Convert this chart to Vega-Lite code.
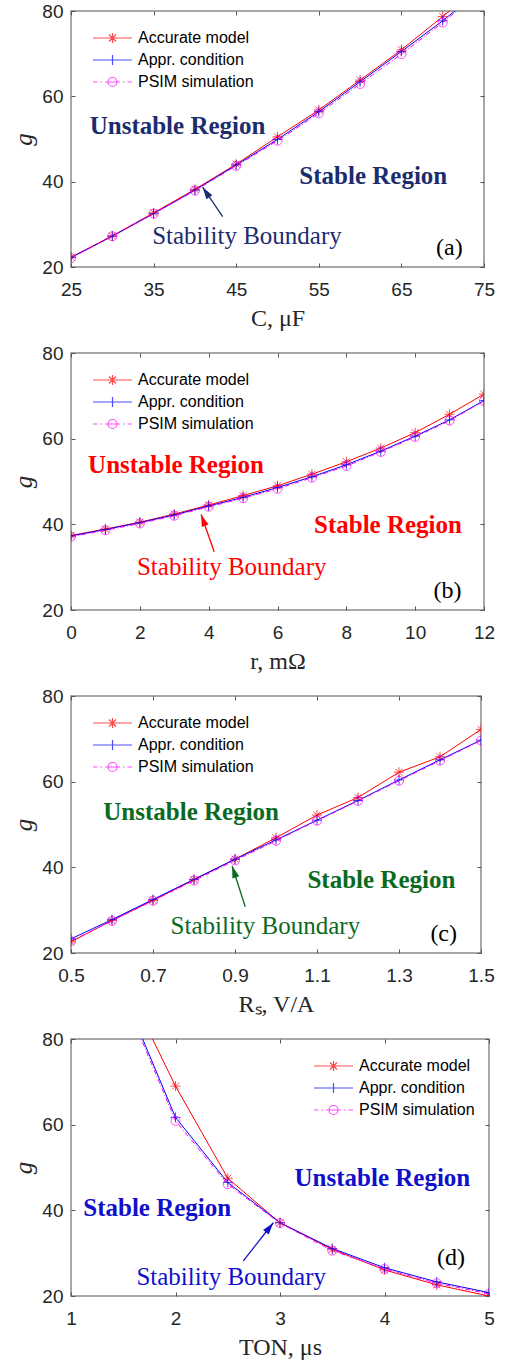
{
  "$schema": "https://vega.github.io/schema/vega-lite/v6.json",
  "background": "white",
  "padding": {"left": 11, "top": 1, "right": 5, "bottom": 5},
  "spacing": 86,
  "bounds": "flush",
  "config": {
    "view": {"stroke": "#8a8a8a", "strokeWidth": 1.5},
    "axis": {"grid": false, "domain": false, "labelFont": "Liberation Sans", "labelFontSize": 19, "labelColor": "#262626", "tickColor": "#555555", "titleFont": "Liberation Serif", "titleFontWeight": "normal", "titleColor": "#262626", "titleFontSize": 24, "labelFlush": false, "labelOverlap": false, "labelBound": false},
    "axisX": {"labelPadding": 13, "titlePadding": 7},
    "axisY": {"labelPadding": 8, "titlePadding": 5, "titleFontStyle": "italic", "titleFontSize": 25},
    "legend": {"orient": "none", "title": null, "symbolSize": 1521, "symbolStrokeWidth": 1.2, "symbolFillColor": "transparent", "labelFont": "Liberation Sans", "labelFontSize": 16, "labelColor": "#000000", "padding": 0, "labelOffset": 5, "rowPadding": 0, "clipHeight": 22}
  },
  "datasets": {
    "a": [
      {"x": 25, "series": "Accurate model", "g": 22.3}, {"x": 30, "series": "Accurate model", "g": 27.3}, {"x": 35, "series": "Accurate model", "g": 32.7}, {"x": 40, "series": "Accurate model", "g": 38.2}, {"x": 45, "series": "Accurate model", "g": 44.1}, {"x": 50, "series": "Accurate model", "g": 50.5}, {"x": 55, "series": "Accurate model", "g": 56.8}, {"x": 60, "series": "Accurate model", "g": 63.8}, {"x": 65, "series": "Accurate model", "g": 70.9}, {"x": 70, "series": "Accurate model", "g": 78.7}, {"x": 75, "series": "Accurate model", "g": 86.5},
      {"x": 25, "series": "Appr. condition", "g": 22.2}, {"x": 30, "series": "Appr. condition", "g": 27.2}, {"x": 35, "series": "Appr. condition", "g": 32.5}, {"x": 40, "series": "Appr. condition", "g": 38.0}, {"x": 45, "series": "Appr. condition", "g": 43.9}, {"x": 50, "series": "Appr. condition", "g": 49.9}, {"x": 55, "series": "Appr. condition", "g": 56.4}, {"x": 60, "series": "Appr. condition", "g": 63.4}, {"x": 65, "series": "Appr. condition", "g": 70.5}, {"x": 70, "series": "Appr. condition", "g": 77.7}, {"x": 75, "series": "Appr. condition", "g": 85.6},
      {"x": 25, "series": "PSIM simulation", "g": 22.1}, {"x": 30, "series": "PSIM simulation", "g": 27.2}, {"x": 35, "series": "PSIM simulation", "g": 32.5}, {"x": 40, "series": "PSIM simulation", "g": 37.9}, {"x": 45, "series": "PSIM simulation", "g": 43.7}, {"x": 50, "series": "PSIM simulation", "g": 49.6}, {"x": 55, "series": "PSIM simulation", "g": 56.0}, {"x": 60, "series": "PSIM simulation", "g": 62.9}, {"x": 65, "series": "PSIM simulation", "g": 69.9}, {"x": 70, "series": "PSIM simulation", "g": 77.3}, {"x": 75, "series": "PSIM simulation", "g": 85.2}
    ],
    "b": [
      {"x": 0, "series": "Accurate model", "g": 37.4}, {"x": 1, "series": "Accurate model", "g": 38.9}, {"x": 2, "series": "Accurate model", "g": 40.5}, {"x": 3, "series": "Accurate model", "g": 42.4}, {"x": 4, "series": "Accurate model", "g": 44.5}, {"x": 5, "series": "Accurate model", "g": 46.7}, {"x": 6, "series": "Accurate model", "g": 49.0}, {"x": 7, "series": "Accurate model", "g": 51.7}, {"x": 8, "series": "Accurate model", "g": 54.6}, {"x": 9, "series": "Accurate model", "g": 57.8}, {"x": 10, "series": "Accurate model", "g": 61.4}, {"x": 11, "series": "Accurate model", "g": 65.7}, {"x": 12, "series": "Accurate model", "g": 70.4},
      {"x": 0, "series": "Appr. condition", "g": 37.3}, {"x": 1, "series": "Appr. condition", "g": 38.8}, {"x": 2, "series": "Appr. condition", "g": 40.4}, {"x": 3, "series": "Appr. condition", "g": 42.2}, {"x": 4, "series": "Appr. condition", "g": 44.3}, {"x": 5, "series": "Appr. condition", "g": 46.3}, {"x": 6, "series": "Appr. condition", "g": 48.6}, {"x": 7, "series": "Appr. condition", "g": 51.1}, {"x": 8, "series": "Appr. condition", "g": 53.9}, {"x": 9, "series": "Appr. condition", "g": 57.1}, {"x": 10, "series": "Appr. condition", "g": 60.6}, {"x": 11, "series": "Appr. condition", "g": 64.4}, {"x": 12, "series": "Appr. condition", "g": 68.9},
      {"x": 0, "series": "PSIM simulation", "g": 37.1}, {"x": 1, "series": "PSIM simulation", "g": 38.6}, {"x": 2, "series": "PSIM simulation", "g": 40.2}, {"x": 3, "series": "PSIM simulation", "g": 42.0}, {"x": 4, "series": "PSIM simulation", "g": 44.1}, {"x": 5, "series": "PSIM simulation", "g": 46.1}, {"x": 6, "series": "PSIM simulation", "g": 48.3}, {"x": 7, "series": "PSIM simulation", "g": 50.9}, {"x": 8, "series": "PSIM simulation", "g": 53.6}, {"x": 9, "series": "PSIM simulation", "g": 56.9}, {"x": 10, "series": "PSIM simulation", "g": 60.4}, {"x": 11, "series": "PSIM simulation", "g": 64.2}, {"x": 12, "series": "PSIM simulation", "g": 68.8}
    ],
    "c": [
      {"x": 0.5, "series": "Accurate model", "g": 22.6}, {"x": 0.6, "series": "Accurate model", "g": 27.6}, {"x": 0.7, "series": "Accurate model", "g": 32.3}, {"x": 0.8, "series": "Accurate model", "g": 37.1}, {"x": 0.9, "series": "Accurate model", "g": 41.9}, {"x": 1.0, "series": "Accurate model", "g": 46.9}, {"x": 1.1, "series": "Accurate model", "g": 52.2}, {"x": 1.2, "series": "Accurate model", "g": 56.3}, {"x": 1.3, "series": "Accurate model", "g": 62.2}, {"x": 1.4, "series": "Accurate model", "g": 65.8}, {"x": 1.5, "series": "Accurate model", "g": 72.2},
      {"x": 0.5, "series": "Appr. condition", "g": 23.3}, {"x": 0.6, "series": "Appr. condition", "g": 27.8}, {"x": 0.7, "series": "Appr. condition", "g": 32.5}, {"x": 0.8, "series": "Appr. condition", "g": 37.2}, {"x": 0.9, "series": "Appr. condition", "g": 41.9}, {"x": 1.0, "series": "Appr. condition", "g": 46.4}, {"x": 1.1, "series": "Appr. condition", "g": 51.0}, {"x": 1.2, "series": "Appr. condition", "g": 55.6}, {"x": 1.3, "series": "Appr. condition", "g": 60.4}, {"x": 1.4, "series": "Appr. condition", "g": 65.1}, {"x": 1.5, "series": "Appr. condition", "g": 69.7},
      {"x": 0.5, "series": "PSIM simulation", "g": 22.8}, {"x": 0.6, "series": "PSIM simulation", "g": 27.5}, {"x": 0.7, "series": "PSIM simulation", "g": 32.2}, {"x": 0.8, "series": "PSIM simulation", "g": 36.9}, {"x": 0.9, "series": "PSIM simulation", "g": 41.6}, {"x": 1.0, "series": "PSIM simulation", "g": 46.2}, {"x": 1.1, "series": "PSIM simulation", "g": 50.9}, {"x": 1.2, "series": "PSIM simulation", "g": 55.5}, {"x": 1.3, "series": "PSIM simulation", "g": 60.2}, {"x": 1.4, "series": "PSIM simulation", "g": 64.9}, {"x": 1.5, "series": "PSIM simulation", "g": 69.6}
    ],
    "d": [
      {"x": 1.5, "series": "Accurate model", "g": 94.0}, {"x": 2, "series": "Accurate model", "g": 69.0}, {"x": 2.5, "series": "Accurate model", "g": 47.5}, {"x": 3, "series": "Accurate model", "g": 37.1}, {"x": 3.5, "series": "Accurate model", "g": 30.9}, {"x": 4, "series": "Accurate model", "g": 26.1}, {"x": 4.5, "series": "Accurate model", "g": 22.6}, {"x": 5, "series": "Accurate model", "g": 20.0},
      {"x": 1.5, "series": "Appr. condition", "g": 90.8}, {"x": 2, "series": "Appr. condition", "g": 61.7}, {"x": 2.5, "series": "Appr. condition", "g": 46.5}, {"x": 3, "series": "Appr. condition", "g": 37.1}, {"x": 3.5, "series": "Appr. condition", "g": 31.1}, {"x": 4, "series": "Appr. condition", "g": 26.6}, {"x": 4.5, "series": "Appr. condition", "g": 23.3}, {"x": 5, "series": "Appr. condition", "g": 20.8},
      {"x": 1.5, "series": "PSIM simulation", "g": 90.0}, {"x": 2, "series": "PSIM simulation", "g": 60.9}, {"x": 2.5, "series": "PSIM simulation", "g": 46.1}, {"x": 3, "series": "PSIM simulation", "g": 37.0}, {"x": 3.5, "series": "PSIM simulation", "g": 30.6}, {"x": 4, "series": "PSIM simulation", "g": 26.3}, {"x": 4.5, "series": "PSIM simulation", "g": 23.0}, {"x": 5, "series": "PSIM simulation", "g": 20.5}
    ],
    "ann": [
      {"panel": "a", "kind": "region", "label": "Unstable Region", "x": 37.9, "g": 53.0},
      {"panel": "a", "kind": "region", "label": "Stable Region", "x": 61.6, "g": 41.3},
      {"panel": "a", "kind": "boundary", "label": "Stability Boundary", "x": 46.3, "g": 27.3},
      {"panel": "a", "kind": "tag", "label": "(a)", "x": 70.8, "g": 24.45},
      {"panel": "b", "kind": "region", "label": "Unstable Region", "x": 3.05, "g": 53.9},
      {"panel": "b", "kind": "region", "label": "Stable Region", "x": 9.21, "g": 39.8},
      {"panel": "b", "kind": "boundary", "label": "Stability Boundary", "x": 4.67, "g": 30.0},
      {"panel": "b", "kind": "tag", "label": "(b)", "x": 10.94, "g": 24.4},
      {"panel": "c", "kind": "region", "label": "Unstable Region", "x": 0.793, "g": 53.0},
      {"panel": "c", "kind": "region", "label": "Stable Region", "x": 1.257, "g": 37.0},
      {"panel": "c", "kind": "boundary", "label": "Stability Boundary", "x": 0.974, "g": 26.4},
      {"panel": "c", "kind": "tag", "label": "(c)", "x": 1.409, "g": 24.4},
      {"panel": "d", "kind": "region", "label": "Unstable Region", "x": 3.98, "g": 47.6},
      {"panel": "d", "kind": "region", "label": "Stable Region", "x": 1.825, "g": 40.5},
      {"panel": "d", "kind": "boundary", "label": "Stability Boundary", "x": 2.533, "g": 24.5},
      {"panel": "d", "kind": "tag", "label": "(d)", "x": 4.636, "g": 28.8}
    ],
    "arrows": [
      {"panel": "a", "x": 43.36, "g": 31.8, "x2": 40.94, "g2": 38.7},
      {"panel": "b", "x": 4.16, "g": 33.6, "x2": 3.78, "g2": 42.3},
      {"panel": "c", "x": 0.925, "g": 30.8, "x2": 0.893, "g2": 40.3},
      {"panel": "d", "x": 2.649, "g": 28.2, "x2": 2.936, "g2": 37.1}
    ]
  },
  "resolve": {"scale": {"x": "independent", "y": "independent", "color": "independent", "shape": "independent"}, "legend": {"color": "independent", "shape": "independent"}},
  "vconcat": [
    {
      "width": 413, "height": 256,
      "resolve": {"axis": {"x": "independent", "y": "independent"}},
      "layer": [
        {"data": {"name": "a"}, "transform": [{"filter": {"field": "series", "equal": "Accurate model"}}],
         "mark": {"type": "line", "clip": true, "strokeWidth": 1, "color": "#ff0000"},
         "encoding": {
           "x": {"field": "x", "type": "quantitative", "scale": {"domain": [25, 75], "nice": false, "zero": false}, "axis": {"values": [25, 35, 45, 55, 65, 75], "title": "C, μF", "ticks": false}},
           "y": {"field": "g", "type": "quantitative", "scale": {"domain": [20, 80], "nice": false, "zero": false}, "axis": {"values": [20, 40, 60, 80], "title": "g", "ticks": false}}
         }},
        {"data": {"name": "a"}, "transform": [{"filter": {"field": "series", "equal": "Appr. condition"}}],
         "mark": {"type": "line", "clip": true, "strokeWidth": 1, "color": "#0000ff"},
         "encoding": {
           "x": {"field": "x", "type": "quantitative", "axis": {"orient": "bottom", "values": [25, 35, 45, 55, 65, 75], "labels": false, "title": null, "tickSize": -4}},
           "y": {"field": "g", "type": "quantitative", "axis": {"orient": "left", "values": [20, 40, 60, 80], "labels": false, "title": null, "tickSize": -4}}
         }},
        {"data": {"name": "a"}, "transform": [{"filter": {"field": "series", "equal": "PSIM simulation"}}],
         "mark": {"type": "line", "clip": true, "strokeWidth": 1, "color": "#ff00ff", "strokeDash": [5, 2, 1, 2]},
         "encoding": {
           "x": {"field": "x", "type": "quantitative", "axis": {"orient": "top", "values": [25, 35, 45, 55, 65, 75], "labels": false, "title": null, "tickSize": -4}},
           "y": {"field": "g", "type": "quantitative", "axis": {"orient": "right", "values": [20, 40, 60, 80], "labels": false, "title": null, "tickSize": -4}}
         }},
        {"data": {"name": "a"}, "transform": [{"filter": {"field": "series", "equal": "Accurate model"}}],
         "mark": {"type": "point", "clip": true, "filled": false, "color": "#ff0000", "strokeWidth": 1, "size": 100, "shape": "M0,-1L0,1M-1,0L1,0M-0.7,-0.7L0.7,0.7M-0.7,0.7L0.7,-0.7"},
         "encoding": {"x": {"field": "x", "type": "quantitative", "axis": null}, "y": {"field": "g", "type": "quantitative", "axis": null}}},
        {"data": {"name": "a"}, "transform": [{"filter": {"field": "series", "equal": "Appr. condition"}}],
         "mark": {"type": "point", "clip": true, "filled": false, "color": "#0000ff", "strokeWidth": 1, "size": 100, "shape": "M0,-1L0,1M-1,0L1,0"},
         "encoding": {"x": {"field": "x", "type": "quantitative", "axis": null}, "y": {"field": "g", "type": "quantitative", "axis": null}}},
        {"data": {"name": "a"}, "transform": [{"filter": {"field": "series", "equal": "PSIM simulation"}}],
         "mark": {"type": "point", "clip": true, "filled": false, "color": "#ff00ff", "strokeWidth": 1, "size": 81, "shape": "circle"},
         "encoding": {"x": {"field": "x", "type": "quantitative", "axis": null}, "y": {"field": "g", "type": "quantitative", "axis": null}}},
        {"data": {"name": "a"}, "transform": [{"filter": {"field": "series", "equal": "none"}}],
         "mark": {"type": "point", "filled": false},
         "encoding": {
           "x": {"field": "x", "type": "quantitative", "axis": null},
           "y": {"field": "g", "type": "quantitative", "axis": null},
           "color": {"field": "series", "type": "nominal", "scale": {"domain": ["Accurate model", "Appr. condition", "PSIM simulation"], "range": ["#ff0000", "#0000ff", "#ff00ff"]}, "legend": {"legendX": 21, "legendY": 16}},
           "shape": {"field": "series", "type": "nominal", "scale": {"domain": ["Accurate model", "Appr. condition", "PSIM simulation"], "range": ["M-1,0L1,0M0,-0.26L0,0.26M-0.26,0L0.26,0M-0.18,-0.18L0.18,0.18M-0.18,0.18L0.18,-0.18", "M-1,0L1,0M0,-0.26L0,0.26M-0.26,0L0.26,0", "M-1,0L-0.77,0M-0.62,0L-0.54,0M-0.38,0L0.38,0M0.54,0L0.62,0M0.77,0L1,0M0.23,0A0.23,0.23,0,1,1,-0.23,0A0.23,0.23,0,1,1,0.23,0"]}, "legend": {"legendX": 21, "legendY": 16}}
         }},
        {"data": {"name": "arrows"}, "transform": [{"filter": "datum.panel === 'a'"}],
         "mark": {"type": "rule", "color": "#1c2d6e", "strokeWidth": 1.3},
         "encoding": {"x": {"field": "x", "type": "quantitative", "axis": null}, "y": {"field": "g", "type": "quantitative", "axis": null}, "x2": {"field": "x2"}, "y2": {"field": "g2"}}},
        {"data": {"name": "arrows"}, "transform": [{"filter": "datum.panel === 'a'"}],
         "mark": {"type": "point", "filled": true, "color": "#1c2d6e", "opacity": 1, "size": 144, "angle": -34, "shape": "M0,0L-0.6,2L0.6,2Z"},
         "encoding": {"x": {"field": "x2", "type": "quantitative", "axis": null}, "y": {"field": "g2", "type": "quantitative", "axis": null}}},
        {"data": {"name": "ann"}, "transform": [{"filter": "datum.panel === 'a' && datum.kind === 'region'"}],
         "mark": {"type": "text", "font": "Liberation Serif", "fontSize": 25, "fontWeight": "bold", "color": "#1c2d6e", "align": "center", "baseline": "middle"},
         "encoding": {"x": {"field": "x", "type": "quantitative", "axis": null}, "y": {"field": "g", "type": "quantitative", "axis": null}, "text": {"field": "label"}}},
        {"data": {"name": "ann"}, "transform": [{"filter": "datum.panel === 'a' && datum.kind === 'boundary'"}],
         "mark": {"type": "text", "font": "Liberation Serif", "fontSize": 25, "color": "#1c2d6e", "align": "center", "baseline": "middle"},
         "encoding": {"x": {"field": "x", "type": "quantitative", "axis": null}, "y": {"field": "g", "type": "quantitative", "axis": null}, "text": {"field": "label"}}},
        {"data": {"name": "ann"}, "transform": [{"filter": "datum.panel === 'a' && datum.kind === 'tag'"}],
         "mark": {"type": "text", "font": "Liberation Serif", "fontSize": 24, "color": "#000000", "align": "center", "baseline": "middle"},
         "encoding": {"x": {"field": "x", "type": "quantitative", "axis": null}, "y": {"field": "g", "type": "quantitative", "axis": null}, "text": {"field": "label"}}}
      ]
    },
    {
      "width": 413, "height": 257,
      "resolve": {"axis": {"x": "independent", "y": "independent"}},
      "layer": [
        {"data": {"name": "b"}, "transform": [{"filter": {"field": "series", "equal": "Accurate model"}}],
         "mark": {"type": "line", "clip": true, "strokeWidth": 1, "color": "#ff0000"},
         "encoding": {
           "x": {"field": "x", "type": "quantitative", "scale": {"domain": [0, 12], "nice": false, "zero": false}, "axis": {"values": [0, 2, 4, 6, 8, 10, 12], "title": "r, mΩ", "ticks": false}},
           "y": {"field": "g", "type": "quantitative", "scale": {"domain": [20, 80], "nice": false, "zero": false}, "axis": {"values": [20, 40, 60, 80], "title": "g", "ticks": false}}
         }},
        {"data": {"name": "b"}, "transform": [{"filter": {"field": "series", "equal": "Appr. condition"}}],
         "mark": {"type": "line", "clip": true, "strokeWidth": 1, "color": "#0000ff"},
         "encoding": {
           "x": {"field": "x", "type": "quantitative", "axis": {"orient": "bottom", "values": [0, 2, 4, 6, 8, 10, 12], "labels": false, "title": null, "tickSize": -4}},
           "y": {"field": "g", "type": "quantitative", "axis": {"orient": "left", "values": [20, 40, 60, 80], "labels": false, "title": null, "tickSize": -4}}
         }},
        {"data": {"name": "b"}, "transform": [{"filter": {"field": "series", "equal": "PSIM simulation"}}],
         "mark": {"type": "line", "clip": true, "strokeWidth": 1, "color": "#ff00ff", "strokeDash": [5, 2, 1, 2]},
         "encoding": {
           "x": {"field": "x", "type": "quantitative", "axis": {"orient": "top", "values": [0, 2, 4, 6, 8, 10, 12], "labels": false, "title": null, "tickSize": -4}},
           "y": {"field": "g", "type": "quantitative", "axis": {"orient": "right", "values": [20, 40, 60, 80], "labels": false, "title": null, "tickSize": -4}}
         }},
        {"data": {"name": "b"}, "transform": [{"filter": {"field": "series", "equal": "Accurate model"}}],
         "mark": {"type": "point", "clip": true, "filled": false, "color": "#ff0000", "strokeWidth": 1, "size": 100, "shape": "M0,-1L0,1M-1,0L1,0M-0.7,-0.7L0.7,0.7M-0.7,0.7L0.7,-0.7"},
         "encoding": {"x": {"field": "x", "type": "quantitative", "axis": null}, "y": {"field": "g", "type": "quantitative", "axis": null}}},
        {"data": {"name": "b"}, "transform": [{"filter": {"field": "series", "equal": "Appr. condition"}}],
         "mark": {"type": "point", "clip": true, "filled": false, "color": "#0000ff", "strokeWidth": 1, "size": 100, "shape": "M0,-1L0,1M-1,0L1,0"},
         "encoding": {"x": {"field": "x", "type": "quantitative", "axis": null}, "y": {"field": "g", "type": "quantitative", "axis": null}}},
        {"data": {"name": "b"}, "transform": [{"filter": {"field": "series", "equal": "PSIM simulation"}}],
         "mark": {"type": "point", "clip": true, "filled": false, "color": "#ff00ff", "strokeWidth": 1, "size": 81, "shape": "circle"},
         "encoding": {"x": {"field": "x", "type": "quantitative", "axis": null}, "y": {"field": "g", "type": "quantitative", "axis": null}}},
        {"data": {"name": "b"}, "transform": [{"filter": {"field": "series", "equal": "none"}}],
         "mark": {"type": "point", "filled": false},
         "encoding": {
           "x": {"field": "x", "type": "quantitative", "axis": null},
           "y": {"field": "g", "type": "quantitative", "axis": null},
           "color": {"field": "series", "type": "nominal", "scale": {"domain": ["Accurate model", "Appr. condition", "PSIM simulation"], "range": ["#ff0000", "#0000ff", "#ff00ff"]}, "legend": {"legendX": 21, "legendY": 16}},
           "shape": {"field": "series", "type": "nominal", "scale": {"domain": ["Accurate model", "Appr. condition", "PSIM simulation"], "range": ["M-1,0L1,0M0,-0.26L0,0.26M-0.26,0L0.26,0M-0.18,-0.18L0.18,0.18M-0.18,0.18L0.18,-0.18", "M-1,0L1,0M0,-0.26L0,0.26M-0.26,0L0.26,0", "M-1,0L-0.77,0M-0.62,0L-0.54,0M-0.38,0L0.38,0M0.54,0L0.62,0M0.77,0L1,0M0.23,0A0.23,0.23,0,1,1,-0.23,0A0.23,0.23,0,1,1,0.23,0"]}, "legend": {"legendX": 21, "legendY": 16}}
         }},
        {"data": {"name": "arrows"}, "transform": [{"filter": "datum.panel === 'b'"}],
         "mark": {"type": "rule", "color": "#ff0000", "strokeWidth": 1.3},
         "encoding": {"x": {"field": "x", "type": "quantitative", "axis": null}, "y": {"field": "g", "type": "quantitative", "axis": null}, "x2": {"field": "x2"}, "y2": {"field": "g2"}}},
        {"data": {"name": "arrows"}, "transform": [{"filter": "datum.panel === 'b'"}],
         "mark": {"type": "point", "filled": true, "color": "#ff0000", "opacity": 1, "size": 144, "angle": -20, "shape": "M0,0L-0.6,2L0.6,2Z"},
         "encoding": {"x": {"field": "x2", "type": "quantitative", "axis": null}, "y": {"field": "g2", "type": "quantitative", "axis": null}}},
        {"data": {"name": "ann"}, "transform": [{"filter": "datum.panel === 'b' && datum.kind === 'region'"}],
         "mark": {"type": "text", "font": "Liberation Serif", "fontSize": 25, "fontWeight": "bold", "color": "#ff0000", "align": "center", "baseline": "middle"},
         "encoding": {"x": {"field": "x", "type": "quantitative", "axis": null}, "y": {"field": "g", "type": "quantitative", "axis": null}, "text": {"field": "label"}}},
        {"data": {"name": "ann"}, "transform": [{"filter": "datum.panel === 'b' && datum.kind === 'boundary'"}],
         "mark": {"type": "text", "font": "Liberation Serif", "fontSize": 25, "color": "#ff0000", "align": "center", "baseline": "middle"},
         "encoding": {"x": {"field": "x", "type": "quantitative", "axis": null}, "y": {"field": "g", "type": "quantitative", "axis": null}, "text": {"field": "label"}}},
        {"data": {"name": "ann"}, "transform": [{"filter": "datum.panel === 'b' && datum.kind === 'tag'"}],
         "mark": {"type": "text", "font": "Liberation Serif", "fontSize": 24, "color": "#000000", "align": "center", "baseline": "middle"},
         "encoding": {"x": {"field": "x", "type": "quantitative", "axis": null}, "y": {"field": "g", "type": "quantitative", "axis": null}, "text": {"field": "label"}}}
      ]
    },
    {
      "width": 410, "height": 257,
      "resolve": {"axis": {"x": "independent", "y": "independent"}},
      "layer": [
        {"data": {"name": "c"}, "transform": [{"filter": {"field": "series", "equal": "Accurate model"}}],
         "mark": {"type": "line", "clip": true, "strokeWidth": 1, "color": "#ff0000"},
         "encoding": {
           "x": {"field": "x", "type": "quantitative", "scale": {"domain": [0.5, 1.5], "nice": false, "zero": false}, "axis": {"values": [0.5, 0.7, 0.9, 1.1, 1.3, 1.5], "format": ".1f", "title": "Rₛ, V/A", "ticks": false}},
           "y": {"field": "g", "type": "quantitative", "scale": {"domain": [20, 80], "nice": false, "zero": false}, "axis": {"values": [20, 40, 60, 80], "title": "g", "ticks": false}}
         }},
        {"data": {"name": "c"}, "transform": [{"filter": {"field": "series", "equal": "Appr. condition"}}],
         "mark": {"type": "line", "clip": true, "strokeWidth": 1, "color": "#0000ff"},
         "encoding": {
           "x": {"field": "x", "type": "quantitative", "axis": {"orient": "bottom", "values": [0.5, 0.7, 0.9, 1.1, 1.3, 1.5], "labels": false, "title": null, "tickSize": -4}},
           "y": {"field": "g", "type": "quantitative", "axis": {"orient": "left", "values": [20, 40, 60, 80], "labels": false, "title": null, "tickSize": -4}}
         }},
        {"data": {"name": "c"}, "transform": [{"filter": {"field": "series", "equal": "PSIM simulation"}}],
         "mark": {"type": "line", "clip": true, "strokeWidth": 1, "color": "#ff00ff", "strokeDash": [5, 2, 1, 2]},
         "encoding": {
           "x": {"field": "x", "type": "quantitative", "axis": {"orient": "top", "values": [0.5, 0.7, 0.9, 1.1, 1.3, 1.5], "labels": false, "title": null, "tickSize": -4}},
           "y": {"field": "g", "type": "quantitative", "axis": {"orient": "right", "values": [20, 40, 60, 80], "labels": false, "title": null, "tickSize": -4}}
         }},
        {"data": {"name": "c"}, "transform": [{"filter": {"field": "series", "equal": "Accurate model"}}],
         "mark": {"type": "point", "clip": true, "filled": false, "color": "#ff0000", "strokeWidth": 1, "size": 100, "shape": "M0,-1L0,1M-1,0L1,0M-0.7,-0.7L0.7,0.7M-0.7,0.7L0.7,-0.7"},
         "encoding": {"x": {"field": "x", "type": "quantitative", "axis": null}, "y": {"field": "g", "type": "quantitative", "axis": null}}},
        {"data": {"name": "c"}, "transform": [{"filter": {"field": "series", "equal": "Appr. condition"}}],
         "mark": {"type": "point", "clip": true, "filled": false, "color": "#0000ff", "strokeWidth": 1, "size": 100, "shape": "M0,-1L0,1M-1,0L1,0"},
         "encoding": {"x": {"field": "x", "type": "quantitative", "axis": null}, "y": {"field": "g", "type": "quantitative", "axis": null}}},
        {"data": {"name": "c"}, "transform": [{"filter": {"field": "series", "equal": "PSIM simulation"}}],
         "mark": {"type": "point", "clip": true, "filled": false, "color": "#ff00ff", "strokeWidth": 1, "size": 81, "shape": "circle"},
         "encoding": {"x": {"field": "x", "type": "quantitative", "axis": null}, "y": {"field": "g", "type": "quantitative", "axis": null}}},
        {"data": {"name": "c"}, "transform": [{"filter": {"field": "series", "equal": "none"}}],
         "mark": {"type": "point", "filled": false},
         "encoding": {
           "x": {"field": "x", "type": "quantitative", "axis": null},
           "y": {"field": "g", "type": "quantitative", "axis": null},
           "color": {"field": "series", "type": "nominal", "scale": {"domain": ["Accurate model", "Appr. condition", "PSIM simulation"], "range": ["#ff0000", "#0000ff", "#ff00ff"]}, "legend": {"legendX": 21, "legendY": 16}},
           "shape": {"field": "series", "type": "nominal", "scale": {"domain": ["Accurate model", "Appr. condition", "PSIM simulation"], "range": ["M-1,0L1,0M0,-0.26L0,0.26M-0.26,0L0.26,0M-0.18,-0.18L0.18,0.18M-0.18,0.18L0.18,-0.18", "M-1,0L1,0M0,-0.26L0,0.26M-0.26,0L0.26,0", "M-1,0L-0.77,0M-0.62,0L-0.54,0M-0.38,0L0.38,0M0.54,0L0.62,0M0.77,0L1,0M0.23,0A0.23,0.23,0,1,1,-0.23,0A0.23,0.23,0,1,1,0.23,0"]}, "legend": {"legendX": 21, "legendY": 16}}
         }},
        {"data": {"name": "arrows"}, "transform": [{"filter": "datum.panel === 'c'"}],
         "mark": {"type": "rule", "color": "#0b6a1f", "strokeWidth": 1.3},
         "encoding": {"x": {"field": "x", "type": "quantitative", "axis": null}, "y": {"field": "g", "type": "quantitative", "axis": null}, "x2": {"field": "x2"}, "y2": {"field": "g2"}}},
        {"data": {"name": "arrows"}, "transform": [{"filter": "datum.panel === 'c'"}],
         "mark": {"type": "point", "filled": true, "color": "#0b6a1f", "opacity": 1, "size": 144, "angle": -18, "shape": "M0,0L-0.6,2L0.6,2Z"},
         "encoding": {"x": {"field": "x2", "type": "quantitative", "axis": null}, "y": {"field": "g2", "type": "quantitative", "axis": null}}},
        {"data": {"name": "ann"}, "transform": [{"filter": "datum.panel === 'c' && datum.kind === 'region'"}],
         "mark": {"type": "text", "font": "Liberation Serif", "fontSize": 25, "fontWeight": "bold", "color": "#0b6a1f", "align": "center", "baseline": "middle"},
         "encoding": {"x": {"field": "x", "type": "quantitative", "axis": null}, "y": {"field": "g", "type": "quantitative", "axis": null}, "text": {"field": "label"}}},
        {"data": {"name": "ann"}, "transform": [{"filter": "datum.panel === 'c' && datum.kind === 'boundary'"}],
         "mark": {"type": "text", "font": "Liberation Serif", "fontSize": 25, "color": "#0b6a1f", "align": "center", "baseline": "middle"},
         "encoding": {"x": {"field": "x", "type": "quantitative", "axis": null}, "y": {"field": "g", "type": "quantitative", "axis": null}, "text": {"field": "label"}}},
        {"data": {"name": "ann"}, "transform": [{"filter": "datum.panel === 'c' && datum.kind === 'tag'"}],
         "mark": {"type": "text", "font": "Liberation Serif", "fontSize": 24, "color": "#000000", "align": "center", "baseline": "middle"},
         "encoding": {"x": {"field": "x", "type": "quantitative", "axis": null}, "y": {"field": "g", "type": "quantitative", "axis": null}, "text": {"field": "label"}}}
      ]
    },
    {
      "width": 418, "height": 257,
      "resolve": {"axis": {"x": "independent", "y": "independent"}},
      "layer": [
        {"data": {"name": "d"}, "transform": [{"filter": {"field": "series", "equal": "Accurate model"}}],
         "mark": {"type": "line", "clip": true, "strokeWidth": 1, "color": "#ff0000"},
         "encoding": {
           "x": {"field": "x", "type": "quantitative", "scale": {"domain": [1, 5], "nice": false, "zero": false}, "axis": {"values": [1, 2, 3, 4, 5], "title": "TON, μs", "ticks": false}},
           "y": {"field": "g", "type": "quantitative", "scale": {"domain": [20, 80], "nice": false, "zero": false}, "axis": {"values": [20, 40, 60, 80], "title": "g", "ticks": false}}
         }},
        {"data": {"name": "d"}, "transform": [{"filter": {"field": "series", "equal": "Appr. condition"}}],
         "mark": {"type": "line", "clip": true, "strokeWidth": 1, "color": "#0000ff"},
         "encoding": {
           "x": {"field": "x", "type": "quantitative", "axis": {"orient": "bottom", "values": [1, 2, 3, 4, 5], "labels": false, "title": null, "tickSize": -4}},
           "y": {"field": "g", "type": "quantitative", "axis": {"orient": "left", "values": [20, 40, 60, 80], "labels": false, "title": null, "tickSize": -4}}
         }},
        {"data": {"name": "d"}, "transform": [{"filter": {"field": "series", "equal": "PSIM simulation"}}],
         "mark": {"type": "line", "clip": true, "strokeWidth": 1, "color": "#ff00ff", "strokeDash": [5, 2, 1, 2]},
         "encoding": {
           "x": {"field": "x", "type": "quantitative", "axis": {"orient": "top", "values": [1, 2, 3, 4, 5], "labels": false, "title": null, "tickSize": -4}},
           "y": {"field": "g", "type": "quantitative", "axis": {"orient": "right", "values": [20, 40, 60, 80], "labels": false, "title": null, "tickSize": -4}}
         }},
        {"data": {"name": "d"}, "transform": [{"filter": {"field": "series", "equal": "Accurate model"}}],
         "mark": {"type": "point", "clip": true, "filled": false, "color": "#ff0000", "strokeWidth": 1, "size": 100, "shape": "M0,-1L0,1M-1,0L1,0M-0.7,-0.7L0.7,0.7M-0.7,0.7L0.7,-0.7"},
         "encoding": {"x": {"field": "x", "type": "quantitative", "axis": null}, "y": {"field": "g", "type": "quantitative", "axis": null}}},
        {"data": {"name": "d"}, "transform": [{"filter": {"field": "series", "equal": "Appr. condition"}}],
         "mark": {"type": "point", "clip": true, "filled": false, "color": "#0000ff", "strokeWidth": 1, "size": 100, "shape": "M0,-1L0,1M-1,0L1,0"},
         "encoding": {"x": {"field": "x", "type": "quantitative", "axis": null}, "y": {"field": "g", "type": "quantitative", "axis": null}}},
        {"data": {"name": "d"}, "transform": [{"filter": {"field": "series", "equal": "PSIM simulation"}}],
         "mark": {"type": "point", "clip": true, "filled": false, "color": "#ff00ff", "strokeWidth": 1, "size": 81, "shape": "circle"},
         "encoding": {"x": {"field": "x", "type": "quantitative", "axis": null}, "y": {"field": "g", "type": "quantitative", "axis": null}}},
        {"data": {"name": "d"}, "transform": [{"filter": {"field": "series", "equal": "none"}}],
         "mark": {"type": "point", "filled": false},
         "encoding": {
           "x": {"field": "x", "type": "quantitative", "axis": null},
           "y": {"field": "g", "type": "quantitative", "axis": null},
           "color": {"field": "series", "type": "nominal", "scale": {"domain": ["Accurate model", "Appr. condition", "PSIM simulation"], "range": ["#ff0000", "#0000ff", "#ff00ff"]}, "legend": {"legendX": 242, "legendY": 16}},
           "shape": {"field": "series", "type": "nominal", "scale": {"domain": ["Accurate model", "Appr. condition", "PSIM simulation"], "range": ["M-1,0L1,0M0,-0.26L0,0.26M-0.26,0L0.26,0M-0.18,-0.18L0.18,0.18M-0.18,0.18L0.18,-0.18", "M-1,0L1,0M0,-0.26L0,0.26M-0.26,0L0.26,0", "M-1,0L-0.77,0M-0.62,0L-0.54,0M-0.38,0L0.38,0M0.54,0L0.62,0M0.77,0L1,0M0.23,0A0.23,0.23,0,1,1,-0.23,0A0.23,0.23,0,1,1,0.23,0"]}, "legend": {"legendX": 242, "legendY": 16}}
         }},
        {"data": {"name": "arrows"}, "transform": [{"filter": "datum.panel === 'd'"}],
         "mark": {"type": "rule", "color": "#1010cc", "strokeWidth": 1.3},
         "encoding": {"x": {"field": "x", "type": "quantitative", "axis": null}, "y": {"field": "g", "type": "quantitative", "axis": null}, "x2": {"field": "x2"}, "y2": {"field": "g2"}}},
        {"data": {"name": "arrows"}, "transform": [{"filter": "datum.panel === 'd'"}],
         "mark": {"type": "point", "filled": true, "color": "#1010cc", "opacity": 1, "size": 144, "angle": 38, "shape": "M0,0L-0.6,2L0.6,2Z"},
         "encoding": {"x": {"field": "x2", "type": "quantitative", "axis": null}, "y": {"field": "g2", "type": "quantitative", "axis": null}}},
        {"data": {"name": "ann"}, "transform": [{"filter": "datum.panel === 'd' && datum.kind === 'region'"}],
         "mark": {"type": "text", "font": "Liberation Serif", "fontSize": 25, "fontWeight": "bold", "color": "#1010cc", "align": "center", "baseline": "middle"},
         "encoding": {"x": {"field": "x", "type": "quantitative", "axis": null}, "y": {"field": "g", "type": "quantitative", "axis": null}, "text": {"field": "label"}}},
        {"data": {"name": "ann"}, "transform": [{"filter": "datum.panel === 'd' && datum.kind === 'boundary'"}],
         "mark": {"type": "text", "font": "Liberation Serif", "fontSize": 25, "color": "#1010cc", "align": "center", "baseline": "middle"},
         "encoding": {"x": {"field": "x", "type": "quantitative", "axis": null}, "y": {"field": "g", "type": "quantitative", "axis": null}, "text": {"field": "label"}}},
        {"data": {"name": "ann"}, "transform": [{"filter": "datum.panel === 'd' && datum.kind === 'tag'"}],
         "mark": {"type": "text", "font": "Liberation Serif", "fontSize": 24, "color": "#000000", "align": "center", "baseline": "middle"},
         "encoding": {"x": {"field": "x", "type": "quantitative", "axis": null}, "y": {"field": "g", "type": "quantitative", "axis": null}, "text": {"field": "label"}}}
      ]
    }
  ]
}
